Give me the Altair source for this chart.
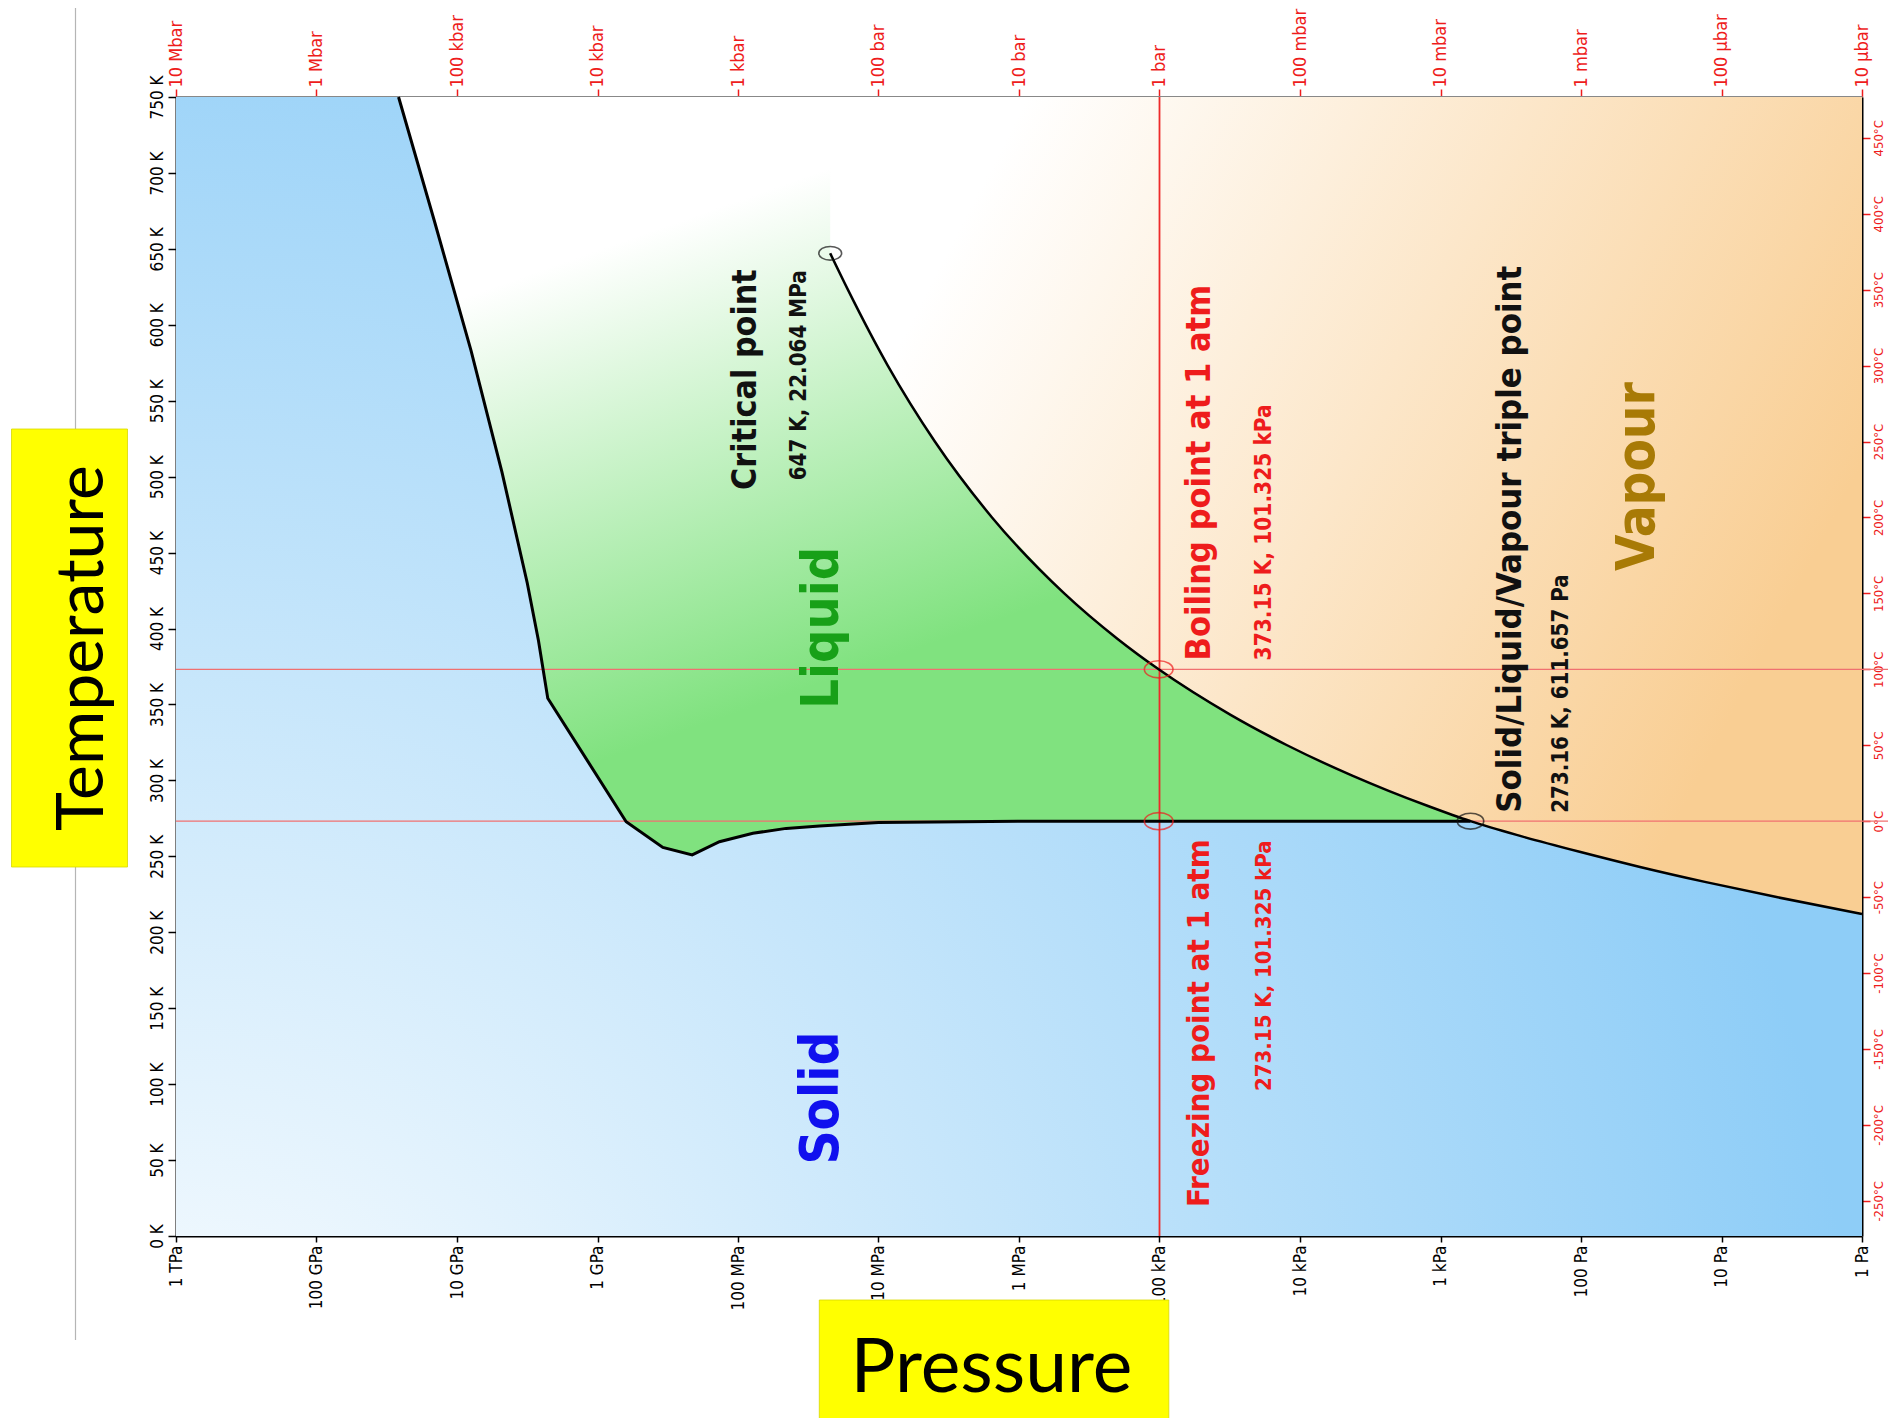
import json
import altair as alt
import pandas as pd

# ---------------- data ----------------
# melting curve (solid / liquid boundary): log10(P/Pa), T in K
melt_logp = [2.787, 5.0, 6.0, 7.0, 7.42, 7.657, 7.894, 8.132, 8.326, 8.535, 8.796,
             9.354, 9.42, 9.50, 9.68, 9.90, 10.16, 10.416]
melt_T = [273.16, 273.15, 273.1, 272.2, 270.0, 268.4, 265.2, 259.6, 250.9, 255.9, 272.8,
          354.1, 392.0, 430.0, 503.0, 583.0, 668.0, 750.0]

# sublimation + vaporisation curve (vapour boundary)
vap_logp = [0.0, 0.6, 1.11, 1.58, 2.01, 2.415, 2.787, 3.089, 3.369, 3.628, 4.092, 4.494,
            5.006, 5.298, 5.678, 6.192, 6.599, 6.934, 7.218, 7.344]
vap_T = [212.0, 223.0, 233.0, 243.0, 253.0, 263.0, 273.16, 283.15, 293.15, 303.15, 323.15,
         343.15, 373.15, 393.15, 423.15, 473.15, 523.15, 573.15, 623.15, 647.1]

# special points
pt_name = ["critical", "boiling", "freezing", "triple"]
pt_P = [22.064e6, 101325.0, 101325.0, 611.657]
pt_T = [647.1, 373.15, 273.15, 273.16]

# reference lines
ref_P = [1e5]
ref_T = [373.15, 273.15]

# axis ticks / labels
P_TICKS = [1e12, 1e11, 1e10, 1e9, 1e8, 1e7, 1e6, 1e5, 1e4, 1e3, 1e2, 1e1, 1e0]
P_LABELS_PA = ["1 TPa", "100 GPa", "10 GPa", "1 GPa", "100 MPa", "10 MPa", "1 MPa",
               "100 kPa", "10 kPa", "1 kPa", "100 Pa", "10 Pa", "1 Pa"]
P_LABELS_BAR = ["10 Mbar", "1 Mbar", "100 kbar", "10 kbar", "1 kbar", "100 bar", "10 bar",
                "1 bar", "100 mbar", "10 mbar", "1 mbar", "100 µbar", "10 µbar"]
T_TICKS = [0, 50, 100, 150, 200, 250, 300, 350, 400, 450, 500, 550, 600, 650, 700, 750]
C_TICKS = [-250, -200, -150, -100, -50, 0, 50, 100, 150, 200, 250, 300, 350, 400, 450]

# annotations
ann_text = ["Critical point", "647 K, 22.064 MPa", "Liquid", "Boiling point at 1 atm",
            "373.15 K, 101.325 kPa", "Freezing point at 1 atm", "273.15 K, 101.325 kPa",
            "Solid/Liquid/Vapour triple point", "273.16 K, 611.657 Pa", "Vapour", "Solid"]
ann_logp = [7.946, 7.567, 7.403, 4.709, 4.253, 4.709, 4.253, 2.497, 2.144, 1.593, 7.403]
ann_T = [491.3, 497.6, 347.1, 379.0, 379.0, 19.1, 95.5, 278.7, 278.7, 437.9, 47.0]
ann_color = ["#111111", "#111111", "#18a018", "#ee1c1c", "#ee1c1c", "#ee1c1c", "#ee1c1c",
             "#111111", "#111111", "#a87a06", "#1010ee"]
ann_size = [33.7, 22.2, 52, 34, 22.5, 31, 22, 34.4, 22.1, 52.5, 52.7]

# ---------------- layout / style ----------------
W, H = 1686, 1139
FONT_AX = "DejaVu Sans Condensed, DejaVu Sans, sans-serif"
FONT_TXT = "DejaVu Sans Condensed, DejaVu Sans, sans-serif"
RED = "#ee1c1c"

xs = alt.Scale(type="log", domain=[1, 1e12], reverse=True, nice=False)
ys = alt.Scale(domain=[0, 750], nice=False, zero=False)

melt_df = pd.DataFrame({"P": [10 ** v for v in melt_logp], "T": melt_T, "Ttop": 750.0})
vap_df = pd.DataFrame({"P": [10 ** v for v in vap_logp], "T": vap_T, "Ttop": 750.0})
pts_df = pd.DataFrame({"name": pt_name, "P": pt_P, "T": pt_T,
                       "c": ["#111111", RED, RED, "#111111"], "s": [520, 820, 820, 700]})
ann_df = pd.DataFrame({"text": ann_text, "P": [10 ** v for v in ann_logp], "T": ann_T,
                       "c": ann_color, "s": ann_size})
bg_df = pd.DataFrame({"p0": [1.0], "p1": [1e12], "t0": [0.0], "t1": [750.0]})
anchor_df = pd.DataFrame({"P": [1e5], "T": [300.0]})

bottom_axis = alt.Axis(
    orient="bottom", values=P_TICKS, title=None, grid=False,
    labelExpr=json.dumps(P_LABELS_PA) + "[round(12 - log(datum.value)/LN10)]",
    labelAngle=270, labelAlign="right", labelBaseline="middle", labelFont=FONT_AX,
    labelFontSize=17, labelColor="black", tickColor="black", tickSize=6, tickWidth=1.5,
    domainColor="black", domainWidth=2, labelPadding=3, labelOverlap=False, labelFlush=False)
left_axis = alt.Axis(
    orient="left", values=T_TICKS, title=None, grid=False,
    labelExpr="datum.value + ' K'", labelAngle=270, labelAlign="center",
    labelBaseline="bottom", labelFont=FONT_AX, labelFontSize=17, labelColor="black",
    tickColor="black", tickSize=8, tickWidth=1.5, domainColor="black", domainWidth=2,
    labelPadding=2, labelOverlap=False, labelFlush=False)
top_axis = alt.Axis(
    orient="top", values=P_TICKS, title=None, grid=False,
    labelExpr=json.dumps(P_LABELS_BAR) + "[round(12 - log(datum.value)/LN10)]",
    labelAngle=270, labelAlign="left", labelBaseline="middle", labelFont=FONT_AX,
    labelFontSize=18, labelColor=RED, tickColor=RED, tickSize=8, tickWidth=1.5,
    domainColor="#888888", domainWidth=3, labelPadding=2, labelOverlap=False,
    labelFlush=False)
right_axis = alt.Axis(
    orient="right", values=[c + 273.15 for c in C_TICKS], title=None, grid=False,
    labelExpr="round(datum.value - 273.15) + '°C'", labelAngle=270, labelAlign="center",
    labelBaseline="top", labelFont=FONT_AX, labelFontSize=13, labelColor=RED,
    tickColor=RED, tickSize=8, tickWidth=1.5, domainColor="black", domainWidth=2,
    labelPadding=2, labelOverlap=False, labelFlush=False)

# ---------------- layers ----------------
blue_grad = alt.RadialGradient(
    gradient="radial", x1=0, y1=1, r1=0, x2=0, y2=1, r2=1,
    stops=[alt.GradientStop(color="#ffffff", offset=0),
           alt.GradientStop(color="#8ecdf7", offset=1)])
green_grad = alt.LinearGradient(
    gradient="linear", x1=0.15, y1=0.22, x2=0.42, y2=0.76,
    stops=[alt.GradientStop(color="#ffffff", offset=0),
           alt.GradientStop(color="#80e27f", offset=1)])
orange_grad = alt.LinearGradient(
    gradient="linear", x1=0.15, y1=0.1, x2=1.0, y2=0.45,
    stops=[alt.GradientStop(color="#ffffff", offset=0),
           alt.GradientStop(color="#f9ce93", offset=1)])

NOX = dict(scale=xs, axis=None)
NOY = dict(scale=ys, axis=None)

bg = alt.Chart(bg_df).mark_rect(fill=blue_grad).encode(
    x=alt.X("p0:Q", **NOX), x2="p1", y=alt.Y("t0:Q", **NOY), y2="t1")

liquid = alt.Chart(melt_df).mark_area(fill=green_grad, strokeWidth=0).encode(
    x=alt.X("P:Q", **NOX), y=alt.Y("T:Q", **NOY), y2="Ttop")

vapour = alt.Chart(vap_df).mark_area(fill=orange_grad, strokeWidth=0).encode(
    x=alt.X("P:Q", **NOX), y=alt.Y("T:Q", **NOY), y2="Ttop")

hrules = alt.Chart(pd.DataFrame({"T": ref_T, "p0": 1e12})).mark_rule(
    color="#f07070", strokeWidth=1.3).encode(
    x=alt.X("p0:Q", **NOX), x2=alt.value(W + 28), y=alt.Y("T:Q", **NOY))

vrule = alt.Chart(pd.DataFrame({"P": ref_P, "t0": 0.0, "t1": 750.0})).mark_rule(
    color="#ee2a2a", strokeWidth=1.8).encode(
    x=alt.X("P:Q", **NOX), y=alt.Y("t0:Q", **NOY), y2="t1")

melt_line = alt.Chart(melt_df).mark_line(color="black", strokeWidth=3).encode(
    x=alt.X("P:Q", **NOX), y=alt.Y("T:Q", **NOY))

vap_line = alt.Chart(vap_df).mark_line(color="black", strokeWidth=2.5,
                                       interpolate="monotone").encode(
    x=alt.X("P:Q", **NOX), y=alt.Y("T:Q", **NOY))

ellipse = "M-1,0A1,0.6,0,1,1,1,0A1,0.6,0,1,1,-1,0Z"
points = alt.Chart(pts_df).mark_point(shape=ellipse, filled=False, strokeWidth=1.6).encode(
    x=alt.X("P:Q", **NOX), y=alt.Y("T:Q", **NOY),
    color=alt.Color("c:N", scale=None), size=alt.Size("s:Q", scale=None))

texts = alt.Chart(ann_df).mark_text(angle=270, align="left", baseline="middle",
                                    font=FONT_TXT, fontWeight="bold").encode(
    x=alt.X("P:Q", **NOX), y=alt.Y("T:Q", **NOY),
    text="text:N", color=alt.Color("c:N", scale=None), size=alt.Size("s:Q", scale=None))

one = pd.DataFrame({"a": [0]})
gray_line = alt.Chart(one).mark_rule(color="#b5b5b5", strokeWidth=1.2).encode(
    x=alt.value(-100.5), y=alt.value(-92), y2=alt.value(1243))
temp_box = alt.Chart(one).mark_rect(fill="#ffff00", stroke="#d8d800", strokeWidth=0.8).encode(
    x=alt.value(-164.5), x2=alt.value(-48.5), y=alt.value(332), y2=alt.value(770))
temp_txt = alt.Chart(one).mark_text(text="Temperature", angle=270, align="center",
                                    baseline="middle", font="Lato", fontSize=66,
                                    color="black").encode(
    x=alt.value(-93), y=alt.value(551))
pres_box = alt.Chart(one).mark_rect(fill="#ffff00", stroke="#d8d800", strokeWidth=0.8).encode(
    x=alt.value(643.3), x2=alt.value(992.8), y=alt.value(1203), y2=alt.value(1330))
pres_txt = alt.Chart(one).mark_text(text="Pressure", align="center", baseline="middle",
                                    font="Lato", fontSize=75, color="black").encode(
    x=alt.value(815.5), y=alt.value(1272))

axes1 = alt.Chart(anchor_df).mark_point(opacity=0).encode(
    x=alt.X("P:Q", scale=xs, axis=bottom_axis), y=alt.Y("T:Q", scale=ys, axis=left_axis))
axes2 = alt.Chart(anchor_df).mark_point(opacity=0).encode(
    x=alt.X("P:Q", scale=xs, axis=top_axis), y=alt.Y("T:Q", scale=ys, axis=right_axis))

chart = alt.layer(
    bg, liquid, vapour, hrules, vrule, melt_line, vap_line, points, texts,
    gray_line, temp_box, temp_txt, pres_box, pres_txt, axes1, axes2
).resolve_axis(x="independent", y="independent").properties(
    width=W, height=H,
    padding={"left": 168, "top": 89, "right": 26, "bottom": 182},
    autosize=alt.AutoSizeParams(type="none"),
    background="white",
).configure_view(stroke=None)

chart.save("out.html", embed_options={"renderer": "svg", "actions": False})
